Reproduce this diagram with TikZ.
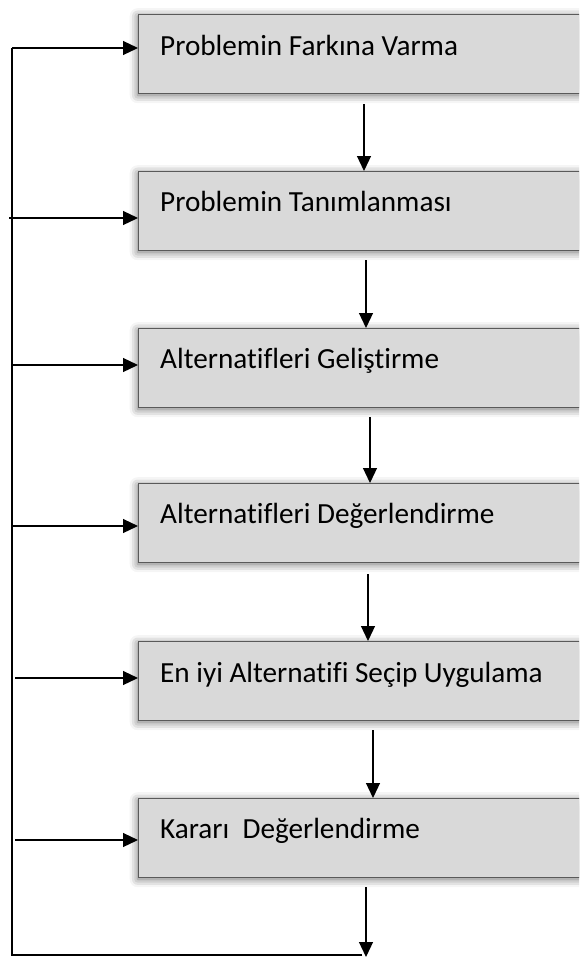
\documentclass[tikz,border=0pt]{standalone}
\usepackage{fontspec}
\setmainfont[Ligatures=NoCommon]{Carlito}
\usetikzlibrary{arrows.meta,shadows.blur,calc}
\definecolor{boxfill}{HTML}{D9D9D9}
\definecolor{boxborder}{HTML}{5A5A5A}
\begin{document}
\begin{tikzpicture}[x=1pt,y=-1pt,
  box/.style={draw=boxborder,line width=1.4pt,fill=boxfill,minimum width=470pt,minimum height=79pt,anchor=north west,inner sep=0pt,
    blur shadow={shadow xshift=-1pt,shadow yshift=-1.5pt,shadow blur radius=8pt,shadow opacity=60}},
  lbl/.style={anchor=base west,font=\fontsize{29.2}{33}\selectfont,inner sep=0pt},
  arr/.style={line width=1.2pt,-{Triangle[length=15pt,width=14pt]}},
  ln/.style={line width=1.2pt}]
\useasboundingbox (0,0) rectangle (579,959);
\clip (0,0) rectangle (579,959);
\node[box] (b1) at (138,14) {};
\node[box] (b2) at (138,171) {};
\node[box] (b3) at (138,328) {};
\node[box] (b4) at (138,483) {};
\node[box] (b5) at (138,641) {};
\node[box] (b6) at (138,798) {};
\node[lbl] (t1) at ([shift={(22,41)}]b1.north west) {Problemin Farkına Varma};
\node[lbl] (t2) at ([shift={(22,40)}]b2.north west) {Problemin Tanımlanması};
\node[lbl] (t3) at ([shift={(22,40)}]b3.north west) {Alternatifleri Geliştirme};
\node[lbl] (t4) at ([shift={(22,40)}]b4.north west) {Alternatifleri Değerlendirme};
\node[lbl] (t5) at ([shift={(22,41)}]b5.north west) {En iyi Alternatifi Seçip Uygulama};
\node[lbl] (t6) at ([shift={(22,40)}]b6.north west) {Kararı~ Değerlendirme};
% feedback line coordinates
\coordinate (l1) at (12,48);
\coordinate (l2) at (9,218);
\coordinate (l3) at (12,365);
\coordinate (l4) at (12,526);
\coordinate (l5) at (15,678);
\coordinate (l6) at (15,840);
\coordinate (bend) at (366,957);
\coordinate (bl) at (12,955);
% vertical flow arrows
\draw[arr] ([shift={(226,10)}]b1.south west) -- ([xshift=226]b2.north west);
\draw[arr] ([shift={(228,9)}]b2.south west) -- ([xshift=228]b3.north west);
\draw[arr] ([shift={(232,9)}]b3.south west) -- ([xshift=232]b4.north west);
\draw[arr] ([shift={(230,11)}]b4.south west) -- ([xshift=230]b5.north west);
\draw[arr] ([shift={(235,9)}]b5.south west) -- ([xshift=235]b6.north west);
\draw[arr] ([shift={(228,9)}]b6.south west) -- (bend);
% feedback loop
\draw[ln] ([xshift=-4]bend |- bl) -- (bl) -- (l1);
\draw[arr] (l1) -- (l1 -| b1.west);
\draw[arr] (l2) -- (l2 -| b2.west);
\draw[arr] (l3) -- (l3 -| b3.west);
\draw[arr] (l4) -- (l4 -| b4.west);
\draw[arr] (l5) -- (l5 -| b5.west);
\draw[arr] (l6) -- (l6 -| b6.west);
\end{tikzpicture}
\end{document}
